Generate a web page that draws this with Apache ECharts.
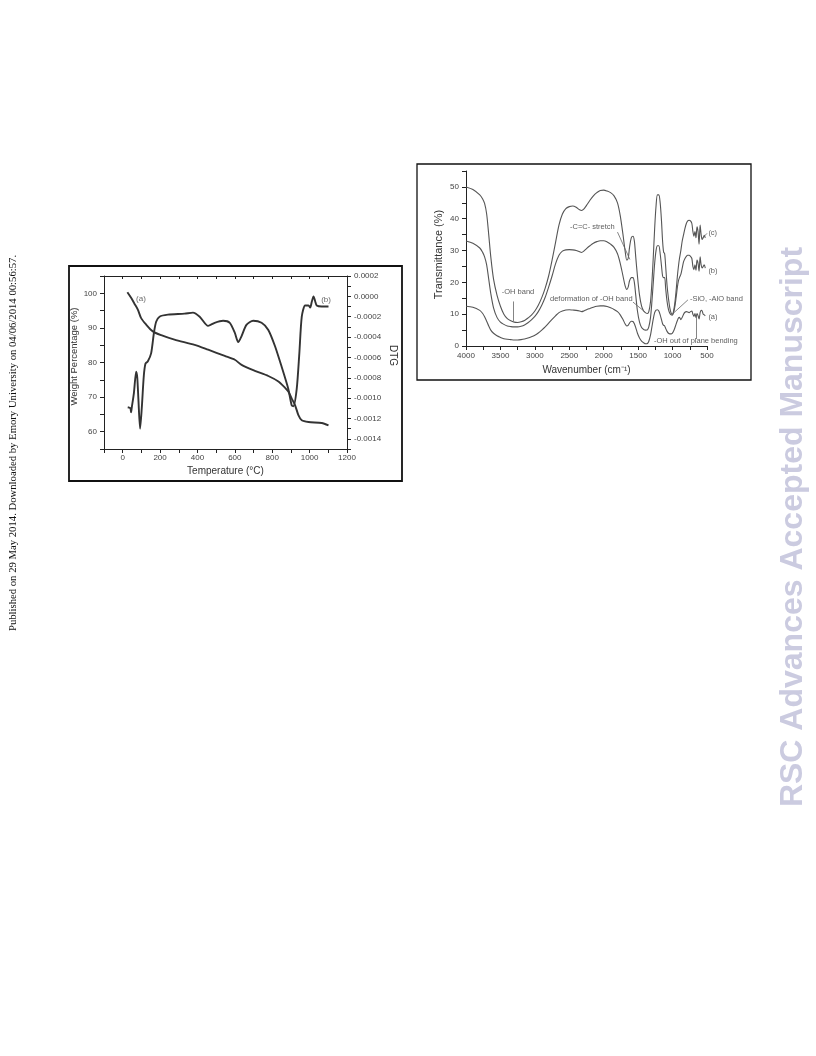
<!DOCTYPE html>
<html>
<head>
<meta charset="utf-8">
<script src="https://cdn.jsdelivr.net/npm/echarts@6/dist/echarts.min.js"></script>
<style>
html,body{margin:0;padding:0;background:#fff;}
#main{width:816px;height:1056px;}
</style>
</head>
<body>
<div id="main"></div>
<script>
// ---------- TGA / DTG data ----------
var tgaT = [25, 45, 63, 81, 98, 125, 161, 206, 277, 385, 457, 546, 600, 636, 707, 779, 833, 870, 886, 905, 922, 940, 958, 994, 1065, 1101];
var tgaW = [100.3, 98.7, 97, 95.3, 92.9, 91, 89, 87.9, 86.6, 85.1, 83.7, 81.9, 80.8, 79.3, 77.6, 76.1, 74.5, 72.6, 71.6, 69.5, 67.7, 64.8, 63.3, 62.8, 62.5, 61.8];
var dtgT = [27, 41, 45, 48, 60, 72, 78, 84, 93, 102, 113, 122, 134, 152, 167, 179, 197, 242, 331, 376, 412, 457, 492, 537, 573, 600, 618, 636, 662, 698, 743, 779, 815, 850, 886, 904, 913, 931, 945, 958, 976, 994, 1003, 1012, 1021, 1030, 1038, 1065, 1101];
var dtgV = [-0.00109, -0.00110, -0.00114, -0.00110, -0.00095, -0.00074, -0.00080, -0.00101, -0.00130, -0.00110, -0.00078, -0.00066, -0.00064, -0.00056, -0.00036, -0.00025, -0.00020, -0.00018, -0.00017, -0.00016, -0.00020, -0.00029, -0.00026, -0.00024, -0.00026, -0.00036, -0.00045, -0.00039, -0.00028, -0.00024, -0.00026, -0.00033, -0.00049, -0.00069, -0.00091, -0.00107, -0.00108, -0.00091, -0.00056, -0.00020, -0.00009, -0.00009, -0.00011, -0.00005, 0.00000, -0.00005, -0.00009, -0.00010, -0.00010];

// ---------- FTIR data ----------
var ftirW = [4000,3900,3800,3760,3730,3700,3670,3640,3600,3550,3500,3450,3400,3350,3300,3250,3200,3150,3100,3050,3000,2950,2900,2850,2800,2750,2700,2650,2600,2550,2500,2450,2400,2350,2320,2290,2250,2200,2150,2100,2050,2000,1950,1900,1850,1800,1760,1720,1690,1665,1645,1625,1600,1575,1555,1535,1510,1480,1450,1420,1390,1365,1345,1320,1300,1280,1260,1240,1220,1200,1180,1160,1145,1130,1115,1100,1080,1060,1040,1020,1005,990,970,950,930,915,900,880,860,840,820,800,780,760,740,720,705,690,675,660,645,630,615,600,585,570,555,540,525];
var ftirC = [50,49.2,47.5,46.3,44.8,41.5,35,28,21,16,12.5,10,8.6,7.9,7.5,7.4,7.6,8,8.8,9.7,11,12.8,15.2,18.2,22,27,32.5,38,41.5,43.2,43.8,44,43.6,42.8,42.6,43,44.2,45.8,47.2,48.2,48.9,49,48.7,48.2,47.2,45,41,35,30,27,27.5,31,34,34.5,33,28,22,16,12.5,11,10.4,10.2,10.8,14,20,28,37,44,47.5,47.5,45,39,33,29.5,29,25,19,15,12,10.3,10,10.5,13,17,22,25,27.5,30,33,35,37,38.5,39.3,39.5,39.3,38.5,36,34.5,36,34,37.5,36,32,38,35,33.5,34,34.8,34];
var ftirB = [33,32.3,30.8,29.5,28,25.5,21,16.5,12,9,7.5,6.8,6.3,6.1,6,6,6.2,6.6,7.3,8.2,9.3,10.8,12.8,15.3,18.5,22,25.8,28.5,29.8,30.2,30.3,30.2,30,29.6,29.4,29.8,30.6,31.5,32.3,32.8,33.1,33.1,32.7,32,31,29,26,22,19,17.8,18.5,20.5,21.5,21.5,20,16,11,7.5,5.8,5.2,5,5.1,6,9,14,20,26,30,31.5,31.5,29,25,22,21.5,21.5,18,14,11.5,10.3,9.8,9.7,10.2,12,15,18.5,20.5,21.5,22.5,24.5,26.5,27.5,28.2,28.5,28.5,28.2,27.5,25,24,25.5,23.8,27,26,23.5,28,25.5,24.5,25,25.5,24.5];
var ftirA = [12.5,12.2,11.2,10.3,9.2,7.8,6.3,5,4,3.2,2.7,2.3,2.1,2,1.9,1.9,2,2.2,2.5,2.9,3.4,4.1,5,6,7.2,8.4,9.5,10.5,11,11.3,11.4,11.3,11.2,11,10.8,11,11.4,11.8,12.2,12.5,12.6,12.6,12.4,12,11.5,10.8,9.8,8.3,7,6.3,6.5,7.2,7.8,7.7,7,5.8,4,2.5,1.5,1,0.7,0.8,1.5,3.5,6,8.5,10.5,11.3,11.4,11,9.8,8.2,7,6.5,6.3,5.5,4.6,4,3.8,3.8,4,4.5,5.5,6.8,8,8.8,9,8.3,9,10,10.6,10.8,10.7,10.5,10.8,11,10,9.3,10.2,9,10.2,9.5,8.5,10.5,11.2,11,10,9.8,9.5];

// ---------- text / annotations ----------
var sideNote = 'Published on 29 May 2014. Downloaded by Emory University on 04/06/2014 00:56:57.';
var watermark = 'RSC Advances Accepted Manuscript';
var tgaLabels = [['(a)', 98, 98.5], ['(b)', 1088, 98.2]];
// text, wavenumber, transmittance, align
var ftirNotes = [
  ['-C=C- stretch', 2490, 37.4, 'left'],
  ['-OH band', 3245, 17, 'center'],
  ['deformation of -OH band', 2780, 14.9, 'left'],
  ['-SiO, -AlO band', 748, 14.9, 'left'],
  ['-OH out of plane bending', 1270, 1.6, 'left'],
  ['(c)', 480, 35.5, 'left'],
  ['(b)', 480, 23.5, 'left'],
  ['(a)', 480, 9, 'left']
];
// leader lines in data coords [x1,y1,x2,y2]
var ftirLeaders = [
  [1800, 35.8, 1620, 27.2],
  [3313, 14, 3313, 7.8],
  [1575, 13.8, 1400, 10.7],
  [777, 14.5, 994, 10.2],
  [650, 2.2, 650, 9.7],
  [578, 33.6, 500, 35.4]
];

function zip(a, b) { return a.map(function (v, i) { return [v, b[i]]; }); }

var chart = echarts.init(document.getElementById('main'), null, {renderer: 'canvas'});
var txt = '#444';
var axisCommon = {
  axisLine: {show: true, onZero: false, lineStyle: {color: '#222', width: 1}},
  axisTick: {show: true, inside: false, length: 4, lineStyle: {color: '#222'}},
  splitLine: {show: false},
  axisLabel: {color: txt, fontSize: 8, fontFamily: 'Liberation Sans'},
  nameTextStyle: {color: '#333', fontSize: 9.5, fontFamily: 'Liberation Sans'}
};
function ax(o) {
  var r = JSON.parse(JSON.stringify(axisCommon));
  for (var k in o) {
    if (typeof o[k] === 'object' && r[k] && !Array.isArray(o[k])) {
      for (var j in o[k]) r[k][j] = o[k][j];
    } else r[k] = o[k];
  }
  return r;
}

var option = {
  animation: false,
  backgroundColor: '#fff',
  grid: [
    {left: 104, top: 276, width: 243, height: 173},
    {left: 466, top: 171, width: 241, height: 175}
  ],
  xAxis: [
    ax({gridIndex: 0, type: 'value', min: -100, max: 1200, interval: 100, position: 'bottom',
      name: 'Temperature (°C)', nameLocation: 'middle', nameGap: 17,
      nameTextStyle: {fontSize: 10},
      axisLabel: {margin: 5, formatter: function (v) { return v % 200 === 0 ? v : ''; }}}),
    ax({gridIndex: 0, type: 'value', min: -100, max: 1200, interval: 100, position: 'top',
      axisTick: {inside: true, length: 3}, axisLabel: {show: false}}),
    ax({gridIndex: 1, type: 'value', min: 500, max: 4000, interval: 250, inverse: true, position: 'bottom',
      name: 'Wavenumber (cm⁻¹)', nameLocation: 'middle', nameGap: 19,
      nameTextStyle: {fontSize: 10},
      axisLabel: {margin: 6, formatter: function (v) { return v % 500 === 0 ? v : ''; }}})
  ],
  yAxis: [
    ax({gridIndex: 0, type: 'value', min: 55, max: 105, interval: 5, position: 'left',
      name: 'Weight Percentage (%)', nameLocation: 'middle', nameGap: 21,
      nameTextStyle: {padding: [0, 0, 0, 12]},
      axisLabel: {margin: 7, formatter: function (v) { return v % 10 === 0 ? v : ''; }}}),
    ax({gridIndex: 0, type: 'value', min: -0.0015, max: 0.0002, interval: 0.0001, position: 'right',
      name: 'DTG', nameLocation: 'middle', nameGap: 41, nameRotate: -90,
      nameTextStyle: {fontSize: 10, padding: [0, 14, 0, 0]},
      axisLabel: {margin: 7, formatter: function (v) {
        var k = Math.round(v * 10000);
        return k % 2 === 0 ? (k / 10000).toFixed(4) : '';
      }}}),
    ax({gridIndex: 1, type: 'value', min: 0, max: 55, interval: 5, position: 'left',
      name: 'Transmittance (%)', nameLocation: 'middle', nameGap: 22,
      nameTextStyle: {fontSize: 11, padding: [0, 0, 0, 8]},
      axisLabel: {margin: 7, formatter: function (v) { return v % 10 === 0 ? v : ''; }}})
  ],
  series: [
    {type: 'line', xAxisIndex: 0, yAxisIndex: 0, data: zip(tgaT, tgaW), showSymbol: false, smooth: 0.25,
      lineStyle: {color: '#333', width: 1.9}},
    {type: 'line', xAxisIndex: 0, yAxisIndex: 1, data: zip(dtgT, dtgV), showSymbol: false, smooth: 0.25,
      lineStyle: {color: '#333', width: 1.9}},
    {type: 'scatter', xAxisIndex: 0, yAxisIndex: 0, symbolSize: 0, clip: false, silent: true,
      data: tgaLabels.map(function (d) { return {value: [d[1], d[2]], label: {formatter: d[0]}}; }),
      label: {show: true, position: 'inside', color: txt, fontSize: 8, fontFamily: 'Liberation Sans'}},
    {type: 'line', xAxisIndex: 2, yAxisIndex: 2, data: zip(ftirW, ftirC), showSymbol: false, smooth: 0.3,
      lineStyle: {color: '#555', width: 1.1}},
    {type: 'line', xAxisIndex: 2, yAxisIndex: 2, data: zip(ftirW, ftirB), showSymbol: false, smooth: 0.3,
      lineStyle: {color: '#555', width: 1.1}},
    {type: 'line', xAxisIndex: 2, yAxisIndex: 2, data: zip(ftirW, ftirA), showSymbol: false, smooth: 0.3,
      lineStyle: {color: '#555', width: 1.1},
      markLine: {silent: true, symbol: ['none', 'none'], animation: false,
        lineStyle: {color: '#666', width: 0.8, type: 'solid'}, label: {show: false},
        data: ftirLeaders.map(function (l) { return [{coord: [l[0], l[1]]}, {coord: [l[2], l[3]]}]; })}},
    {type: 'scatter', xAxisIndex: 2, yAxisIndex: 2, symbolSize: 0, clip: false, silent: true,
      data: ftirNotes.map(function (d) {
        return {value: [d[1], d[2]], label: {formatter: d[0], align: d[3]}};
      }),
      label: {show: true, position: 'inside', color: '#333', fontSize: 7.5, fontFamily: 'Liberation Sans'}}
  ],
  graphic: [
    {type: 'rect', shape: {x: 69, y: 266, width: 333, height: 215}, style: {fill: 'none', stroke: '#111', lineWidth: 1.8}, silent: true},
    {type: 'rect', shape: {x: 417, y: 164, width: 334, height: 216}, style: {fill: 'none', stroke: '#111', lineWidth: 1.3}, silent: true},
    {type: 'text', x: 13, y: 443, rotation: Math.PI / 2, silent: true,
      style: {text: sideNote, font: '10.7px "Liberation Serif"', fill: '#111', align: 'center', verticalAlign: 'middle'}},
    {type: 'text', x: 793, y: 527, rotation: Math.PI / 2, silent: true,
      style: {text: watermark, font: 'bold 32px "Liberation Sans"', fill: '#cbcbe0', align: 'center', verticalAlign: 'middle'}}
  ]
};
chart.setOption(option);
</script>
</body>
</html>
